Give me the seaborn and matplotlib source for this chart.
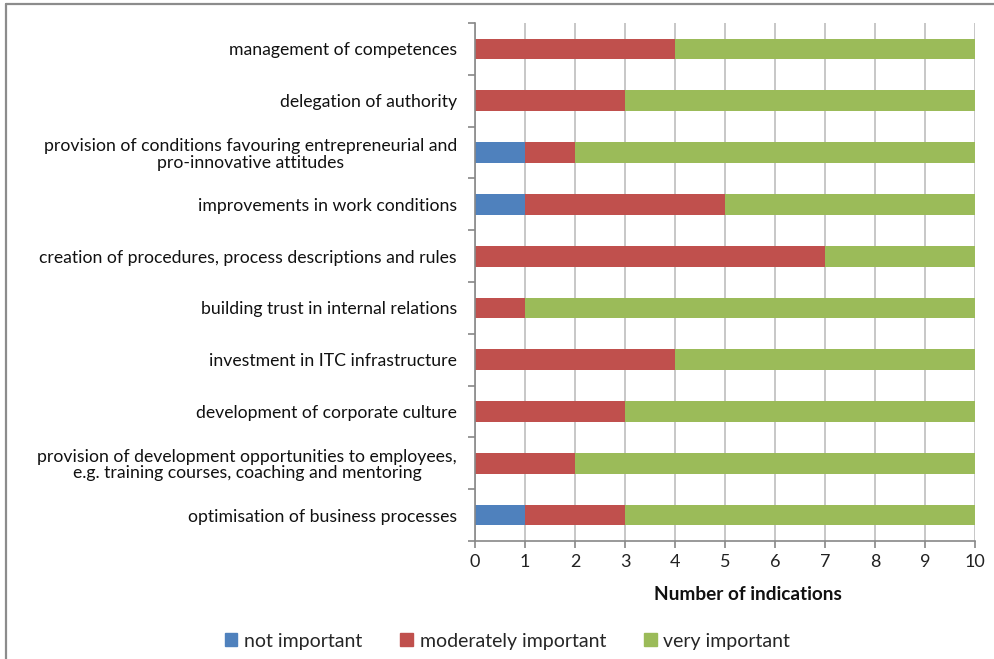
import matplotlib
matplotlib.use("Agg")
import matplotlib.pyplot as plt
from matplotlib.lines import Line2D
import numpy as np
import pandas as pd
import seaborn as sns

categories = [
    "management of competences",
    "delegation of authority",
    "provision of conditions favouring entrepreneurial and\npro-innovative attitudes",
    "improvements in work conditions",
    "creation of procedures, process descriptions and rules",
    "building trust in internal relations",
    "investment in ITC infrastructure",
    "development of corporate culture",
    "provision of development opportunities to employees,\ne.g. training courses, coaching and mentoring",
    "optimisation of business processes",
]
not_important = [0, 0, 1, 1, 0, 0, 0, 0, 0, 1]
moderately_important = [4, 3, 1, 4, 7, 1, 4, 3, 2, 2]
very_important = [6, 7, 8, 5, 3, 9, 6, 7, 8, 7]

series_names = ["not important", "moderately important", "very important"]
colors = ["#4F81BD", "#C0504D", "#9BBB59"]

df = pd.DataFrame({
    "category": categories,
    "not important": not_important,
    "moderately important": moderately_important,
    "very important": very_important,
})
# cumulative totals so each layer is drawn over the next one
cum = df[series_names].cumsum(axis=1)
cum["category"] = df["category"]

sns.set_style("white")
plt.rcParams["font.family"] = ["Lato", "DejaVu Sans"]

fig = plt.figure(figsize=(9.95, 6.59), dpi=100)
ax = fig.add_axes([0.4774, 0.179, 0.5025, 0.786])

for name, color in reversed(list(zip(series_names, colors))):
    sns.barplot(data=cum, y="category", x=name, color=color, orient="h",
                width=0.4, ax=ax, label=name, saturation=1, linewidth=0,
                legend=False)
if ax.get_legend() is not None:
    ax.get_legend().remove()

ax.set_xlim(0, 10)
ax.set_ylim(len(categories) - 0.5, -0.5)
ax.set_xticks(range(0, 11))
ax.tick_params(axis="x", bottom=True, labelsize=13, length=5, width=1.2,
               color="#888888", direction="out", pad=4, labelcolor="#222222")
ax.set_yticks(range(len(categories)))
ax.set_yticklabels(categories, fontsize=12.7, color="#111111",
                   linespacing=1.05, multialignment="center")
ax.tick_params(axis="y", left=True, length=0, pad=13)
ax.set_yticks(np.arange(-0.5, len(categories), 1), minor=True)
ax.tick_params(axis="y", which="minor", left=True, length=5, width=1.2,
               color="#888888")

ax.xaxis.grid(True, color="#BEBEBE", linewidth=1.2)
ax.set_axisbelow(True)
for side in ["top", "right"]:
    ax.spines[side].set_visible(False)
for side in ["left", "bottom"]:
    ax.spines[side].set_color("#888888")
    ax.spines[side].set_linewidth(1.2)

ax.set_ylabel("")
ax.set_xlabel("Number of indications", fontsize=13.7, fontweight="bold",
              color="#111111")
ax.xaxis.set_label_coords(0.545, -0.087)

handles = [plt.Rectangle((0, 0), 1, 1, color=c) for c in colors]
fig.legend(handles, series_names,
           loc="center", bbox_to_anchor=(0.51, 0.027), ncol=3, frameon=False,
           fontsize=14, handlelength=0.65, handleheight=0.65,
           columnspacing=1.95, handletextpad=0.35)

# outer frame lines of the chart area
fig.add_artist(Line2D([0.0065, 1.0], [0.9945, 0.9945], transform=fig.transFigure,
                      color="#8C8C8C", linewidth=1.6))
fig.add_artist(Line2D([0.0065, 0.0065], [0.0, 0.9945], transform=fig.transFigure,
                      color="#8C8C8C", linewidth=1.6))

fig.savefig("out.png", dpi=100)
